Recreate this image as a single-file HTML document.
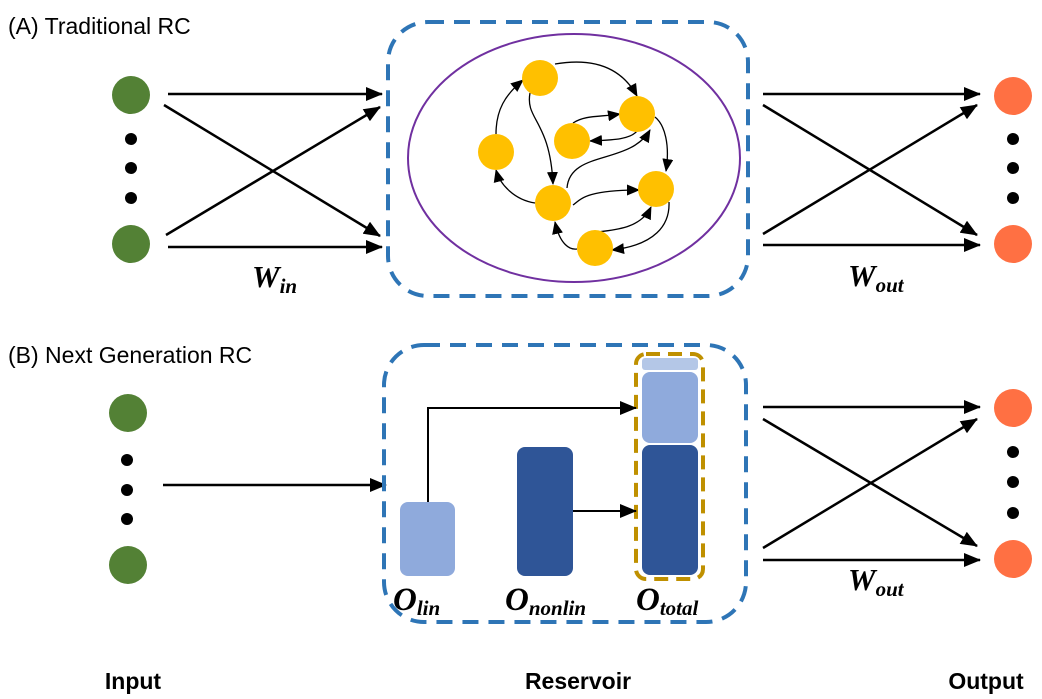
<!DOCTYPE html>
<html><head><meta charset="utf-8"><style>
html,body{margin:0;padding:0;background:#fff;}
svg{display:block;}
text{font-family:"Liberation Sans",sans-serif;}
.m{font-family:"Liberation Serif",serif;font-style:italic;font-weight:bold;}
</style></head><body>
<svg width="1042" height="699" viewBox="0 0 1042 699" xmlns="http://www.w3.org/2000/svg">
<defs>
<marker id="a" markerWidth="13" markerHeight="11" refX="12" refY="5.5" orient="auto" markerUnits="userSpaceOnUse" viewBox="0 0 13 11"><path d="M0,0L13,5.5L0,11z" fill="#000"/></marker>
<marker id="b" markerWidth="17" markerHeight="14" refX="16" refY="7" orient="auto" markerUnits="userSpaceOnUse" viewBox="0 0 17 14"><path d="M0,0L17,7L0,14z" fill="#000"/></marker>
</defs>
<text x="8" y="34" font-size="23">(A) Traditional RC</text>
<text x="8" y="363" font-size="23">(B) Next Generation RC</text>

<!-- A input -->
<g fill="#538135"><circle cx="131" cy="95" r="19"/><circle cx="131" cy="244" r="19"/></g>
<g fill="#000"><circle cx="131" cy="139" r="6"/><circle cx="131" cy="168" r="6"/><circle cx="131" cy="198" r="6"/></g>
<g stroke="#000" stroke-width="2.5" fill="none" marker-end="url(#b)">
<line x1="168" y1="94" x2="382" y2="94"/>
<line x1="164" y1="105" x2="380" y2="236"/>
<line x1="166" y1="235" x2="380" y2="107"/>
<line x1="168" y1="247" x2="382" y2="247"/>
</g>
<text x="252" y="287" class="m" font-size="31">W<tspan font-size="21" dy="6">in</tspan></text>

<!-- A reservoir -->
<rect x="388" y="22" width="360" height="274" rx="40" fill="none" stroke="#2E75B6" stroke-width="4" stroke-dasharray="16,10"/>
<ellipse cx="574" cy="158" rx="166" ry="124" fill="none" stroke="#7030A0" stroke-width="2"/>
<g stroke="#000" stroke-width="1.3" fill="none" marker-end="url(#a)">
<path d="M555,64 C590,58 620,65 637,96"/>
<path d="M530,93 C525,120 550,120 553,184"/>
<path d="M496,134 C496,110 505,95 523,80"/>
<path d="M535,203 C515,200 500,185 496,170"/>
<path d="M573,123 C585,115 600,117 620,114"/>
<path d="M637,131 C630,140 610,140 590,141"/>
<path d="M567,188 C570,150 630,165 650,130"/>
<path d="M655,117 C665,125 670,145 666,171"/>
<path d="M573,205 C580,200 585,190 639,190"/>
<path d="M598,232 C610,230 640,230 651,207"/>
<path d="M669,202 C670,225 655,245 612,250"/>
<path d="M577,249 C570,250 560,245 555,222"/>
</g>
<g fill="#FFC000">
<circle cx="540" cy="78" r="18"/><circle cx="637" cy="114" r="18"/><circle cx="572" cy="141" r="18"/>
<circle cx="496" cy="152" r="18"/><circle cx="553" cy="203" r="18"/><circle cx="656" cy="189" r="18"/><circle cx="595" cy="248" r="18"/>
</g>

<!-- A output -->
<g stroke="#000" stroke-width="2.5" fill="none" marker-end="url(#b)">
<line x1="763" y1="94" x2="980" y2="94"/>
<line x1="763" y1="105" x2="977" y2="235"/>
<line x1="763" y1="234" x2="977" y2="105"/>
<line x1="763" y1="245" x2="980" y2="245"/>
</g>
<g fill="#FF7043"><circle cx="1013" cy="96" r="19"/><circle cx="1013" cy="244" r="19"/></g>
<g fill="#000"><circle cx="1013" cy="139" r="6"/><circle cx="1013" cy="168" r="6"/><circle cx="1013" cy="198" r="6"/></g>
<text x="848" y="286" class="m" font-size="31">W<tspan font-size="21" dy="6">out</tspan></text>

<!-- B input -->
<g fill="#538135"><circle cx="128" cy="413" r="19"/><circle cx="128" cy="565" r="19"/></g>
<g fill="#000"><circle cx="127" cy="460" r="6"/><circle cx="127" cy="490" r="6"/><circle cx="127" cy="519" r="6"/></g>
<line x1="163" y1="485" x2="386" y2="485" stroke="#000" stroke-width="2.5" marker-end="url(#b)"/>

<!-- B reservoir -->
<rect x="384" y="345" width="362" height="277" rx="40" fill="none" stroke="#2E75B6" stroke-width="4" stroke-dasharray="16,10"/>
<rect x="400" y="502" width="55" height="74" rx="8" fill="#8FAADC"/>
<rect x="517" y="447" width="56" height="129" rx="8" fill="#2F5597"/>
<rect x="642" y="358" width="56" height="12" rx="3" fill="#B4C7E7"/>
<rect x="642" y="372" width="56" height="71" rx="8" fill="#8FAADC"/>
<rect x="642" y="445" width="56" height="130" rx="8" fill="#2F5597"/>
<rect x="636" y="354" width="67" height="225" rx="10" fill="none" stroke="#BF9000" stroke-width="4" stroke-dasharray="14,8"/>
<g stroke="#000" stroke-width="2" fill="none" marker-end="url(#b)">
<path d="M428,502 L428,408 L636,408"/>
<line x1="573" y1="511" x2="636" y2="511"/>
</g>
<text x="393" y="610" class="m" font-size="33">O<tspan font-size="21" dy="5">lin</tspan></text>
<text x="505" y="610" class="m" font-size="33">O<tspan font-size="21" dy="5">nonlin</tspan></text>
<text x="636" y="610" class="m" font-size="33">O<tspan font-size="21" dy="5">total</tspan></text>

<!-- B output -->
<g stroke="#000" stroke-width="2.5" fill="none" marker-end="url(#b)">
<line x1="763" y1="407" x2="980" y2="407"/>
<line x1="763" y1="419" x2="977" y2="546"/>
<line x1="763" y1="548" x2="977" y2="419"/>
<line x1="763" y1="560" x2="980" y2="560"/>
</g>
<g fill="#FF7043"><circle cx="1013" cy="408" r="19"/><circle cx="1013" cy="559" r="19"/></g>
<g fill="#000"><circle cx="1013" cy="452" r="6"/><circle cx="1013" cy="482" r="6"/><circle cx="1013" cy="513" r="6"/></g>
<text x="848" y="590" class="m" font-size="31">W<tspan font-size="21" dy="6">out</tspan></text>

<text x="133" y="689" font-size="23" font-weight="bold" text-anchor="middle">Input</text>
<text x="578" y="689" font-size="23" font-weight="bold" text-anchor="middle">Reservoir</text>
<text x="986" y="689" font-size="23" font-weight="bold" text-anchor="middle">Output</text>
</svg>
</body></html>
